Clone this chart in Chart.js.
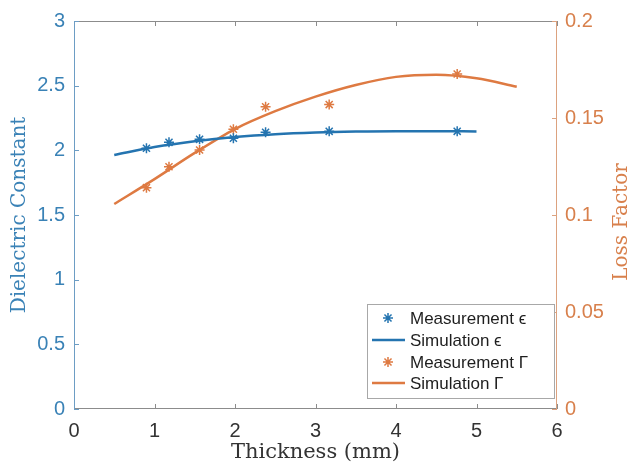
<!DOCTYPE html>
<html>
<head>
<meta charset="utf-8">
<script src="https://cdn.jsdelivr.net/npm/chart.js@4/dist/chart.umd.min.js"></script>
<style>
  html, body { margin: 0; padding: 0; background: #fff; }
  #wrap { width: 628px; height: 464px; }
</style>
</head>
<body>
<div id="wrap"><canvas id="c" width="628" height="464"></canvas></div>
<script>
// ---- data ----
const measThickness = [0.90, 1.18, 1.56, 1.98, 2.38, 3.17, 4.76];
const measEpsilon   = [2.016, 2.062, 2.085, 2.093, 2.140, 2.147, 2.147];
const measGamma     = [0.1141, 0.1249, 0.1335, 0.1442, 0.1558, 0.1569, 0.1727];

const simEpsThickness = [0.5, 1.0, 1.5, 2.0, 2.5, 3.0, 3.5, 4.0, 4.5, 5.0];
const simEpsilon      = [1.964, 2.025, 2.070, 2.103, 2.125, 2.138, 2.145, 2.148, 2.148, 2.146];

const simGamThickness = [0.5, 1.0, 1.5, 2.0, 2.5, 3.0, 3.5, 4.0, 4.5, 5.0, 5.5];
const simGamma        = [0.1057, 0.1185, 0.1320, 0.1443, 0.1535, 0.1610, 0.1670, 0.1712, 0.1723, 0.1705, 0.1661];

const xTicks  = [0, 1, 2, 3, 4, 5, 6];
const yTicks  = [0, 0.5, 1, 1.5, 2, 2.5, 3];
const y2Ticks = [0, 0.05, 0.1, 0.15, 0.2];

const labels = ['Measurement \u03F5', 'Simulation \u03F5', 'Measurement \u0393', 'Simulation \u0393'];
const axisTitles = { x: 'Thickness (mm)', y: 'Dielectric Constant', y2: 'Loss Factor' };

const BLUE = '#2474b0';
const ORANGE = '#de7a42';
const BLUE_TXT = '#3a82b6';
const ORANGE_TXT = '#d8804c';

const zip = (xs, ys) => xs.map((x, i) => ({ x, y: ys[i] }));
const fmt = v => String(parseFloat(Number(v).toFixed(4)));

// ---- frame + inward ticks + right title + legend ----
const framePlugin = {
  id: 'frame',
  afterDatasetsDraw(chart) {
    const { ctx, chartArea: ca, scales } = chart;
    const L = 5;
    ctx.save();
    ctx.lineWidth = 1;
    // top & bottom (gray)
    ctx.strokeStyle = '#8c8c8c';
    ctx.beginPath();
    ctx.moveTo(ca.left, ca.top + 0.5); ctx.lineTo(ca.right, ca.top + 0.5);
    ctx.moveTo(ca.left, ca.bottom - 0.5); ctx.lineTo(ca.right, ca.bottom - 0.5);
    xTicks.forEach(v => {
      const px = Math.round(scales.x.getPixelForValue(v)) + 0.5;
      ctx.moveTo(px, ca.bottom); ctx.lineTo(px, ca.bottom - L);
      ctx.moveTo(px, ca.top); ctx.lineTo(px, ca.top + L);
    });
    ctx.stroke();
    // left (blue)
    ctx.strokeStyle = '#6d9dc4';
    ctx.beginPath();
    ctx.moveTo(ca.left + 0.5, ca.top); ctx.lineTo(ca.left + 0.5, ca.bottom);
    yTicks.forEach(v => {
      const py = Math.round(scales.y.getPixelForValue(v)) + 0.5;
      ctx.moveTo(ca.left, py); ctx.lineTo(ca.left + L, py);
    });
    ctx.stroke();
    // right (orange)
    ctx.strokeStyle = '#dca27f';
    ctx.beginPath();
    ctx.moveTo(ca.right - 0.5, ca.top); ctx.lineTo(ca.right - 0.5, ca.bottom);
    y2Ticks.forEach(v => {
      const py = Math.round(scales.y2.getPixelForValue(v)) + 0.5;
      ctx.moveTo(ca.right, py); ctx.lineTo(ca.right - L, py);
    });
    ctx.stroke();

    // right axis title, reading bottom to top
    ctx.save();
    ctx.translate(627, (ca.top + ca.bottom) / 2 + 7);
    ctx.rotate(-Math.PI / 2);
    ctx.font = '20px "DejaVu Serif"';
    ctx.fillStyle = ORANGE_TXT;
    ctx.textAlign = 'center';
    ctx.textBaseline = 'alphabetic';
    ctx.fillText(axisTitles.y2, 0, 0);
    ctx.restore();

    // legend box inside the plot, bottom-right
    const bx0 = ca.right - 190, bx1 = ca.right - 2;
    const by0 = ca.bottom - 105, by1 = ca.bottom - 10;
    ctx.fillStyle = '#ffffff';
    ctx.fillRect(bx0, by0, bx1 - bx0, by1 - by0);
    ctx.strokeStyle = '#a8a8a8';
    ctx.lineWidth = 1;
    ctx.strokeRect(bx0 + 0.5, by0 + 0.5, bx1 - bx0 - 1, by1 - by0 - 1);
    const rowY = [by0 + 14, by0 + 36, by0 + 58, by0 + 79];
    chart.data.datasets.forEach((ds, i) => {
      const y = rowY[i];
      const cx = bx0 + 21;
      if (ds.showLine === false) {
        ctx.strokeStyle = ds.borderColor;
        ctx.lineWidth = 1.5;
        ctx.beginPath();
        const r = 5;
        ctx.moveTo(cx, y - r); ctx.lineTo(cx, y + r);
        ctx.moveTo(cx - r, y); ctx.lineTo(cx + r, y);
        const d = r * 0.707;
        ctx.moveTo(cx - d, y - d); ctx.lineTo(cx + d, y + d);
        ctx.moveTo(cx - d, y + d); ctx.lineTo(cx + d, y - d);
        ctx.stroke();
      } else {
        ctx.strokeStyle = ds.borderColor;
        ctx.lineWidth = 2.5;
        ctx.beginPath();
        ctx.moveTo(bx0 + 5, y); ctx.lineTo(bx0 + 38, y);
        ctx.stroke();
      }
      ctx.fillStyle = '#1e1e1e';
      ctx.font = '17px "Liberation Sans", Arial, sans-serif';
      ctx.textAlign = 'left';
      ctx.textBaseline = 'middle';
      ctx.fillText(ds.label, bx0 + 43, y + 1);
    });
    ctx.restore();
  }
};

const tickFont = { family: '"Liberation Sans", Arial, sans-serif', size: 20 };

new Chart(document.getElementById('c'), {
  type: 'scatter',
  data: {
    datasets: [
      { label: labels[0], data: zip(measThickness, measEpsilon), yAxisID: 'y', showLine: false,
        pointStyle: 'star', pointRadius: 5, pointBorderWidth: 1.5, borderColor: BLUE, backgroundColor: BLUE },
      { label: labels[1], data: zip(simEpsThickness, simEpsilon), yAxisID: 'y', showLine: true,
        pointRadius: 0, borderWidth: 2.5, borderColor: BLUE, backgroundColor: BLUE, cubicInterpolationMode: 'monotone' },
      { label: labels[2], data: zip(measThickness, measGamma), yAxisID: 'y2', showLine: false,
        pointStyle: 'star', pointRadius: 5, pointBorderWidth: 1.5, borderColor: ORANGE, backgroundColor: ORANGE },
      { label: labels[3], data: zip(simGamThickness, simGamma), yAxisID: 'y2', showLine: true,
        pointRadius: 0, borderWidth: 2.5, borderColor: ORANGE, backgroundColor: ORANGE, cubicInterpolationMode: 'monotone' }
    ]
  },
  options: {
    responsive: false,
    animation: false,
    devicePixelRatio: 1,
    layout: { padding: { top: 21, left: 0, right: 0, bottom: 0 } },
    plugins: { legend: { display: false }, tooltip: { enabled: false } },
    scales: {
      x: {
        type: 'linear', position: 'bottom', min: 0, max: 6,
        afterBuildTicks: s => { s.ticks = xTicks.map(v => ({ value: v })); },
        afterFit: s => { s.height = 55; },
        grid: { display: false, drawTicks: false },
        border: { display: false },
        ticks: { color: '#333', font: tickFont, padding: 10, maxRotation: 0, callback: fmt },
        title: { display: true, text: axisTitles.x, color: '#333',
                 font: { family: '"DejaVu Serif"', size: 21, lineHeight: 1 }, padding: { top: 0, bottom: 1 } }
      },
      y: {
        type: 'linear', position: 'left', min: 0, max: 3,
        afterBuildTicks: s => { s.ticks = yTicks.map(v => ({ value: v })); },
        afterFit: s => { s.width = 74; },
        grid: { display: false, drawTicks: false },
        border: { display: false },
        ticks: { color: BLUE_TXT, font: tickFont, padding: 9, callback: fmt },
        title: { display: true, text: axisTitles.y, color: BLUE_TXT,
                 font: { family: '"DejaVu Serif"', size: 20, lineHeight: 1 }, padding: { top: 10, bottom: 0 } }
      },
      y2: {
        type: 'linear', position: 'right', min: 0, max: 0.2,
        afterBuildTicks: s => { s.ticks = y2Ticks.map(v => ({ value: v })); },
        afterFit: s => { s.width = 71; },
        grid: { display: false, drawTicks: false },
        border: { display: false },
        ticks: { color: ORANGE_TXT, font: tickFont, padding: 8, callback: fmt }
      }
    }
  },
  plugins: [framePlugin]
});
</script>
</body>
</html>
